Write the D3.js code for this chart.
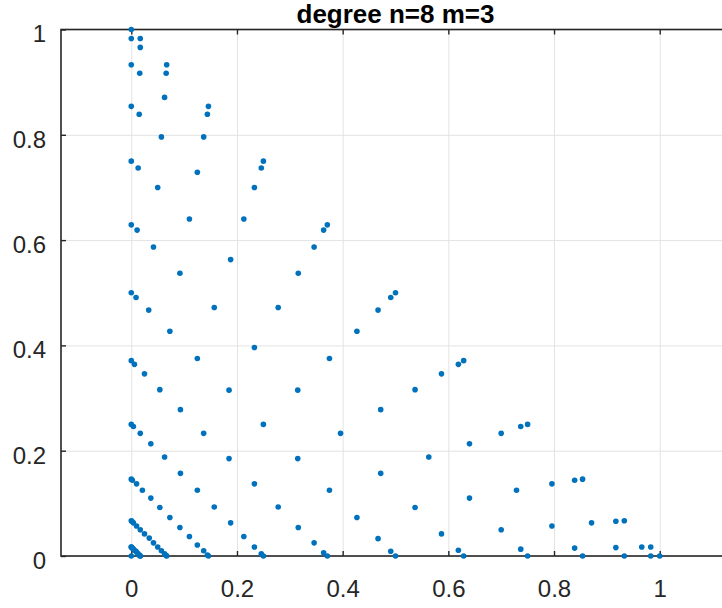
<!DOCTYPE html>
<html>
<head>
<meta charset="utf-8">
<script src="https://cdn.jsdelivr.net/npm/d3@7"></script>
<style>
  html, body { margin: 0; padding: 0; background: #fff; overflow: hidden; }
  svg { display: block; }
  .tick text { font-family: "Liberation Sans", Arial, sans-serif; }
</style>
</head>
<body>
<div id="chart"></div>
<script>
const titleText = "degree n=8 m=3";
const xTicks = [0, 0.2, 0.4, 0.6, 0.8, 1];
const yTicks = [0, 0.2, 0.4, 0.6, 0.8, 1];

// x positions, one row per diagonal line (x + y = const)
const xVals = [
  1, .983, .933, .854, .75, .629, .5, .371, .25, .146, .067, .017, 0,
  .983, .966, .917, .839, .737, .619, .491, .364, .246, .144, .066, .017, 0,
  .933, .917, .871, .796, .700, .587, .467, .346, .233, .137, .063, .016, 0,
  .854, .839, .796, .729, .640, .537, .427, .316, .213, .125, .057, .015, 0,
  .750, .737, .700, .640, .563, .472, .375, .278, .188, .110, .050, .013, 0,
  .629, .619, .587, .537, .472, .396, .315, .233, .157, .092, .042, .011, 0,
  .5, .491, .467, .427, .375, .315, .25, .185, .125, .073, .033, .009, 0,
  .371, .364, .346, .316, .278, .233, .185, .137, .093, .054, .025, .006, 0,
  .25, .246, .233, .213, .188, .157, .125, .093, .063, .037, .017, .004, 0,
  .146, .144, .137, .125, .110, .092, .073, .054, .037, .021, .010, .002, 0,
  .067, .066, .063, .057, .050, .042, .034, .025, .017, .010, .004, .001, 0,
  .017, .017, .016, .015, .013, .011, .009, .006, .004, .002, .001, 0, 0,
  0
];
// y positions, same order
const yVals = [
  0, .017, .067, .146, .25, .371, .5, .629, .75, .854, .933, .983, 1,
  0, .017, .066, .144, .246, .364, .491, .619, .737, .839, .917, .966, .983,
  0, .016, .063, .137, .233, .346, .467, .587, .700, .796, .871, .917, .933,
  0, .015, .057, .125, .213, .316, .427, .537, .640, .729, .796, .839, .854,
  0, .013, .050, .110, .188, .278, .375, .472, .563, .640, .700, .737, .750,
  0, .011, .042, .092, .157, .233, .315, .396, .472, .537, .587, .619, .629,
  0, .009, .033, .073, .125, .185, .25, .315, .375, .427, .467, .491, .5,
  0, .006, .025, .054, .093, .137, .185, .233, .278, .316, .346, .364, .371,
  0, .004, .017, .037, .063, .093, .125, .157, .188, .213, .233, .246, .25,
  0, .002, .010, .021, .037, .054, .073, .092, .110, .125, .137, .144, .146,
  0, .001, .004, .010, .017, .025, .034, .042, .050, .057, .063, .066, .067,
  0, 0, .001, .002, .004, .006, .009, .011, .013, .015, .016, .017, .017,
  0
];

const W = 722, H = 608;
const plotLeft = 61, plotTop = 29.5, plotBottom = 556;
const plotRight = 730; // axes box runs past the window edge
const axisColor = "#262626";
const gridColor = "#e3e3e3";
const dotColor = "#0072BD";

const x = d3.scaleLinear().domain([-0.133, 1.133]).range([plotLeft, plotRight]);
const y = d3.scaleLinear().domain([0, 1]).range([plotBottom, plotTop]);

const svg = d3.select("#chart").append("svg")
  .attr("width", W)
  .attr("height", H);

// grid lines
svg.append("g")
  .attr("transform", `translate(0,${plotBottom})`)
  .call(d3.axisBottom(x).tickValues(xTicks).tickSize(-(plotBottom - plotTop)).tickFormat(""))
  .call(g => g.select(".domain").remove())
  .call(g => g.selectAll("line").attr("stroke", gridColor).attr("stroke-width", 1));
svg.append("g")
  .attr("transform", `translate(${plotLeft},0)`)
  .call(d3.axisLeft(y).tickValues(yTicks).tickSize(-(plotRight - plotLeft)).tickFormat(""))
  .call(g => g.select(".domain").remove())
  .call(g => g.selectAll("line").attr("stroke", gridColor).attr("stroke-width", 1));

// box
svg.append("rect")
  .attr("x", plotLeft).attr("y", plotTop)
  .attr("width", plotRight - plotLeft).attr("height", plotBottom - plotTop)
  .attr("fill", "none").attr("stroke", axisColor).attr("stroke-width", 1.6);

// axes with inward ticks
const xAxis = svg.append("g")
  .attr("transform", `translate(0,${plotBottom})`)
  .call(d3.axisBottom(x).tickValues(xTicks).tickSize(-5).tickPadding(0).tickFormat(d3.format("")));
xAxis.select(".domain").remove();
xAxis.selectAll("line").attr("stroke", axisColor).attr("stroke-width", 1.4);
xAxis.selectAll("text")
  .attr("y", 41).attr("dy", null)
  .attr("fill", axisColor)
  .style("font-size", "24px");

const xTop = svg.append("g")
  .attr("transform", `translate(0,${plotTop})`)
  .call(d3.axisTop(x).tickValues(xTicks).tickSize(-5).tickFormat(""));
xTop.select(".domain").remove();
xTop.selectAll("line").attr("stroke", axisColor).attr("stroke-width", 1.4);

const yAxis = svg.append("g")
  .attr("transform", `translate(${plotLeft},0)`)
  .call(d3.axisLeft(y).tickValues(yTicks).tickSize(-5).tickFormat(d3.format("")));
yAxis.select(".domain").remove();
yAxis.selectAll("line").attr("stroke", axisColor).attr("stroke-width", 1.4);
yAxis.selectAll("text")
  .attr("x", -15).attr("dy", "0.52em")
  .attr("fill", axisColor)
  .style("font-size", "24px");

// title
svg.append("text")
  .attr("x", (plotLeft + plotRight) / 2)
  .attr("y", 23)
  .attr("text-anchor", "middle")
  .attr("font-family", "Liberation Sans, Arial, sans-serif")
  .attr("font-weight", "bold")
  .attr("font-size", 26)
  .attr("fill", "#000")
  .text(titleText);

// points
svg.append("g")
  .selectAll("circle")
  .data(d3.range(xVals.length))
  .enter()
  .append("circle")
  .attr("cx", i => x(xVals[i]))
  .attr("cy", i => y(yVals[i]))
  .attr("r", 2.8)
  .attr("fill", dotColor);
</script>
</body>
</html>
